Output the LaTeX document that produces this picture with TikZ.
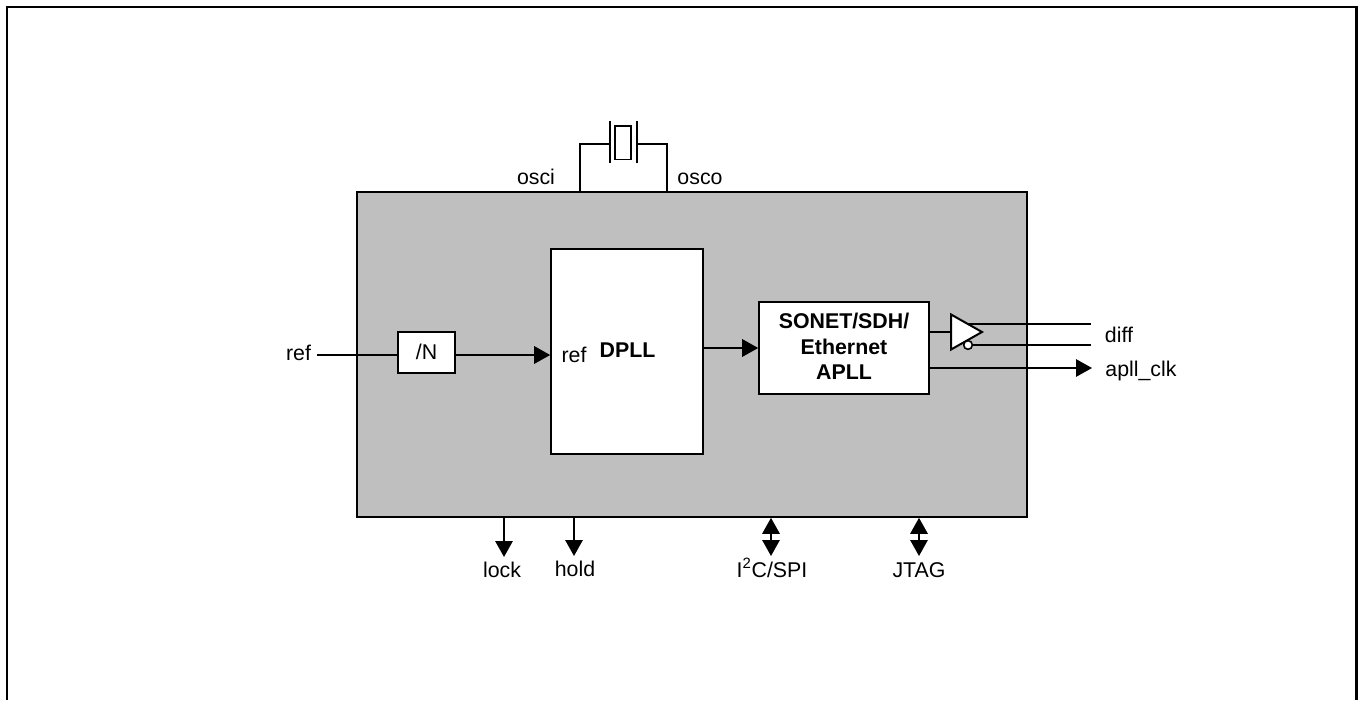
\documentclass[tikz,border=0pt]{standalone}
\usepackage{fontspec}
\setmainfont{Liberation Sans}
\usetikzlibrary{arrows.meta,shapes.geometric}
\tikzset{
  wire/.style={line width=1.5pt},
  sig/.style={wire, -{Triangle[length=12pt,width=13pt]}},
  bisig/.style={wire, {Triangle[length=12pt,width=13pt]}-{Triangle[length=12pt,width=13pt]}},
  blk/.style={draw, line width=1.2pt, fill=white, inner sep=0pt},
  lbl/.style={inner sep=0pt, anchor=base, font=\fontsize{16}{19}\selectfont},
  boldlbl/.style={lbl, font=\fontsize{16}{19}\selectfont\bfseries}
}
\begin{document}
\begin{tikzpicture}[x=0.75pt,y=-0.75pt]
  \useasboundingbox (0,0) rectangle (1360,700);
  % outer frame, open at the bottom
  \draw[line width=1.9pt] (7,700) -- (7,7) -- (1356.5,7) -- (1356.5,700);
  \node[draw, line width=1.2pt, fill=black!25, inner sep=0pt, minimum width=502.5pt, minimum height=243.75pt] (chip) at (692,354.5) {};
  \node[blk, minimum width=114pt, minimum height=153.75pt] (dpll) at (627,351.5) {};
  \node[blk, minimum width=42.75pt, minimum height=30.75pt] (div) at (426.5,352.5) {};
  \node[blk, minimum width=127.5pt, minimum height=69pt] (apll) at (844,348) {};
  \node[lbl] (divtxt) at (426.5,359) {/N};
  \node[boldlbl] (apllb) at (844,328) {SONET/SDH/};
  \node[boldlbl] (apllc) at (844,354) {Ethernet};
  \node[boldlbl] (aplld) at (844,379) {APLL};
  \node[boldlbl] (dplltxt) at (627.5,357) {DPLL};
  \node[lbl] (refin) at (574,362.5) {ref};
  \node[lbl] (refout) at (298.5,360) {ref};
  \coordinate (refstub) at (317,355);
  \draw[wire] (refstub) -- (div.west |- refstub);
  \draw[sig] (div.east |- refstub) -- (dpll.west |- refstub);
  \draw[sig] (dpll.east |- 0,348) -- (apll.west |- 0,348);
  % output buffer
  \coordinate (bufin) at (950,332);
  \coordinate (difftop) at (1091,324);
  \coordinate (diffbot) at (1091,345);
  \coordinate (clkend) at (1092,368);
  \draw[wire] (apll.east |- bufin) -- (bufin);
  \draw[wire] (difftop) -- (966,324);
  \draw[wire] (diffbot) -- (968,345);
  \node[draw, line width=1.5pt, fill=white, isosceles triangle, isosceles triangle apex angle=59, inner sep=0pt, minimum height=23.25pt, minimum width=26.25pt, anchor=lower side] (buf) at (bufin) {};
  \node[circle, draw, line width=1.2pt, fill=white, inner sep=0pt, minimum size=6.5pt] (bubble) at (968,345) {};
  \draw[sig] (apll.east |- clkend) -- (clkend);
  \node[lbl] (diff) at (1119,342) {diff};
  \node[lbl] (clk) at (1141,376) {apll\_clk};
  % crystal
  \coordinate (xl) at (610,144);
  \coordinate (xr) at (637,144);
  \coordinate (pinl) at (580,192);
  \coordinate (pinr) at (667,192);
  \draw[wire] (pinl) |- (xl);
  \draw[wire] (pinr) |- (xr);
  \draw[wire] (610,121) -- (610,163);
  \draw[wire] (637,121) -- (637,163);
  \node[draw, line width=1.2pt, inner sep=0pt, minimum width=11.8pt, minimum height=25.2pt] (xtal) at (623,142.5) {};
  \node[lbl] (osci) at (536,184) {osci};
  \node[lbl] (osco) at (700,184) {osco};
  % bottom pins
  \node[lbl] (lock) at (502,577) {lock};
  \node[lbl] (hold) at (575,576) {hold};
  \node[lbl] (i2c) at (772,577) {I\textsuperscript{2}C/SPI};
  \node[lbl] (jtag) at (919,577) {JTAG};
  \coordinate (lockend) at (504,557);
  \coordinate (holdend) at (574,556);
  \coordinate (i2cend) at (771,556);
  \coordinate (jtagend) at (919,556);
  \draw[sig] (lockend |- chip.south) -- (lockend);
  \draw[sig] (holdend |- chip.south) -- (holdend);
  \draw[bisig] (i2cend |- chip.south) -- (i2cend);
  \draw[bisig] (jtagend |- chip.south) -- (jtagend);
\end{tikzpicture}
\end{document}
